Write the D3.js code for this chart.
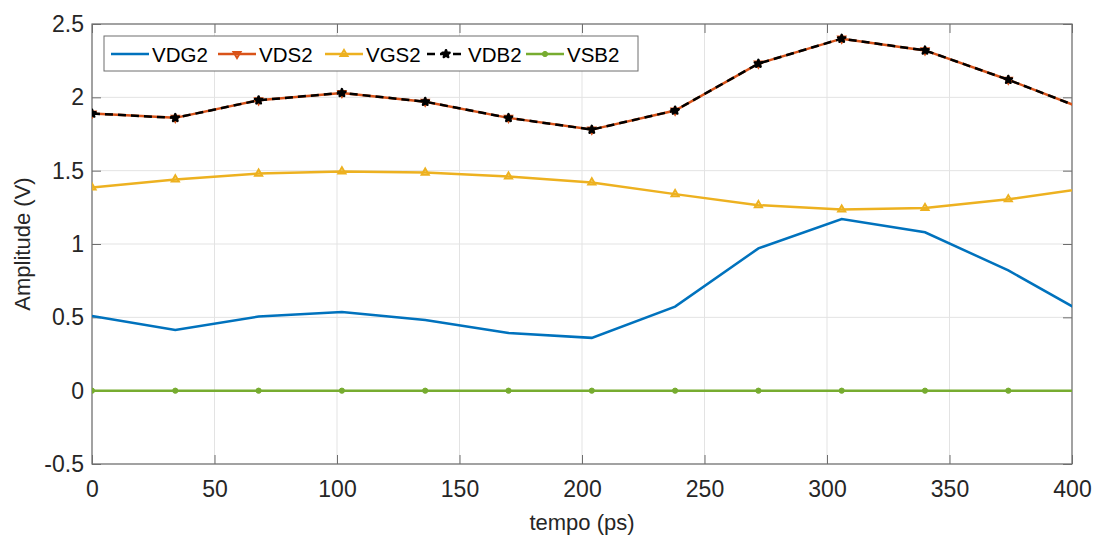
<!DOCTYPE html>
<html>
<head>
<meta charset="utf-8">
<script src="https://cdn.jsdelivr.net/npm/d3@7"></script>
<style>
  body { margin: 0; background: #fff; }
  svg { display: block; font-family: "Liberation Sans", Arial, sans-serif; }
</style>
</head>
<body>
<div id="chart"></div>
<script>
// sample times (ps), last one lies past the axis limit and gets clipped
var tempo = [0, 34, 68, 102, 136, 170, 204, 238, 272, 306, 340, 374, 408];
var vdg2 = [0.51, 0.414, 0.505, 0.536, 0.482, 0.393, 0.36, 0.573, 0.97, 1.17, 1.08, 0.82, 0.50];
var vds2 = [1.89, 1.86, 1.98, 2.03, 1.97, 1.86, 1.78, 1.91, 2.23, 2.40, 2.32, 2.12, 1.90];
var vgs2 = [1.385, 1.44, 1.48, 1.495, 1.487, 1.46, 1.42, 1.34, 1.265, 1.235, 1.245, 1.305, 1.385];
var vdb2 = [1.89, 1.86, 1.98, 2.03, 1.97, 1.86, 1.78, 1.91, 2.23, 2.40, 2.32, 2.12, 1.90];
var vsb2 = [0, 0, 0, 0, 0, 0, 0, 0, 0, 0, 0, 0, 0];
var xTicks = [0, 50, 100, 150, 200, 250, 300, 350, 400];
var yTicks = [-0.5, 0, 0.5, 1, 1.5, 2, 2.5];

var series = [
  {name: "VDG2", values: vdg2, color: "#0072BD", marker: null, dash: null},
  {name: "VDS2", values: vds2, color: "#D95319", marker: "tridown", dash: null},
  {name: "VGS2", values: vgs2, color: "#EDB120", marker: "triup", dash: null},
  {name: "VDB2", values: vdb2, color: "#000000", marker: "star", dash: "8,5"},
  {name: "VSB2", values: vsb2, color: "#77AC30", marker: "dot", dash: null}
];

var width = 1101, height = 539;
var margin = {top: 24, right: 29, bottom: 75, left: 92};
var iw = width - margin.left - margin.right,
    ih = height - margin.top - margin.bottom;

var svg = d3.select("#chart").append("svg")
    .attr("width", width)
    .attr("height", height);

var x = d3.scaleLinear().domain([0, 400]).range([0, iw]);
var y = d3.scaleLinear().domain([-0.5, 2.5]).range([ih, 0]);

svg.append("defs").append("clipPath").attr("id", "clip")
  .append("rect").attr("width", iw).attr("height", ih);

var g = svg.append("g").attr("transform", "translate(" + margin.left + "," + margin.top + ")");

// grid
g.append("g").selectAll("line").data(xTicks).enter().append("line")
    .attr("x1", function(d) { return x(d); }).attr("x2", function(d) { return x(d); })
    .attr("y1", 0).attr("y2", ih)
    .attr("stroke", "#e3e3e3").attr("stroke-width", 1);
g.append("g").selectAll("line").data(yTicks).enter().append("line")
    .attr("y1", function(d) { return y(d); }).attr("y2", function(d) { return y(d); })
    .attr("x1", 0).attr("x2", iw)
    .attr("stroke", "#e3e3e3").attr("stroke-width", 1);

// axes (ticks pointing inward, box on)
var axisColor = "#262626";
function styleAxis(sel, showText) {
  sel.select(".domain").remove();
  sel.selectAll(".tick line").attr("stroke", "#6e6e6e").attr("stroke-width", 1);
  sel.selectAll(".tick text")
      .attr("fill", axisColor)
      .style("font-size", "23px")
      .style("display", showText ? null : "none");
}
g.append("g").attr("transform", "translate(0," + ih + ")")
    .call(d3.axisBottom(x).tickValues(xTicks).tickSize(-9).tickPadding(17).tickFormat(d3.format("d")))
    .call(styleAxis, true);
g.append("g")
    .call(d3.axisTop(x).tickValues(xTicks).tickSize(-9).tickFormat(""))
    .call(styleAxis, false);
g.append("g")
    .call(d3.axisLeft(y).tickValues(yTicks).tickSize(-9).tickPadding(8).tickFormat(function(d) { return String(d); }))
    .call(styleAxis, true);
g.append("g").attr("transform", "translate(" + iw + ",0)")
    .call(d3.axisRight(y).tickValues(yTicks).tickSize(-9).tickFormat(""))
    .call(styleAxis, false);

g.append("rect")
    .attr("width", iw).attr("height", ih)
    .attr("fill", "none").attr("stroke", "#6e6e6e").attr("stroke-width", 1.2);

// lines
var line = d3.line()
    .x(function(d, i) { return x(tempo[i]); })
    .y(function(d) { return y(d); });

var plot = g.append("g").attr("clip-path", "url(#clip)");

function drawMarker(sel, type, color) {
  if (!type) return;
  if (type === "tridown") {
    sel.append("path")
        .attr("d", d3.symbol().type(d3.symbolTriangle).size(22))
        .attr("transform", "rotate(180)")
        .attr("fill", "none").attr("stroke", color).attr("stroke-width", 2);
  } else if (type === "triup") {
    sel.append("path")
        .attr("d", d3.symbol().type(d3.symbolTriangle).size(22))
        .attr("fill", "none").attr("stroke", color).attr("stroke-width", 2);
  } else if (type === "star") {
    sel.append("path")
        .attr("d", d3.symbol().type(d3.symbolStar).size(16))
        .attr("fill", color).attr("stroke", color).attr("stroke-width", 2.5)
        .attr("stroke-linejoin", "round");
  } else if (type === "dot") {
    sel.append("circle")
        .attr("r", 2.6)
        .attr("fill", color).attr("stroke", color).attr("stroke-width", 1);
  }
}

series.forEach(function(s) {
  plot.append("path")
      .datum(s.values)
      .attr("fill", "none")
      .attr("stroke", s.color)
      .attr("stroke-width", 2.5)
      .attr("stroke-dasharray", s.dash)
      .attr("d", line);
  if (s.marker) {
    plot.append("g").selectAll("g").data(s.values).enter().append("g")
        .attr("transform", function(d, i) { return "translate(" + x(tempo[i]) + "," + y(d) + ")"; })
        .each(function() { drawMarker(d3.select(this), s.marker, s.color); });
  }
});

// axis labels
svg.append("text")
    .attr("x", margin.left + iw / 2).attr("y", 530)
    .attr("text-anchor", "middle")
    .attr("fill", axisColor)
    .style("font-size", "22px")
    .text("tempo (ps)");
svg.append("text")
    .attr("transform", "translate(30," + (margin.top + ih / 2) + ") rotate(-90)")
    .attr("text-anchor", "middle")
    .attr("fill", axisColor)
    .style("font-size", "22px")
    .text("Amplitude (V)");

// legend
var legend = svg.append("g").attr("transform", "translate(104,36)");
legend.append("rect")
    .attr("width", 534).attr("height", 35)
    .attr("fill", "#fff").attr("stroke", "#6e6e6e").attr("stroke-width", 1);
var legX = [7, 114, 221, 323, 422];
series.forEach(function(s, i) {
  var it = legend.append("g").attr("transform", "translate(" + legX[i] + ",18)");
  it.append("line")
      .attr("x1", 0).attr("x2", 38)
      .attr("stroke", s.color).attr("stroke-width", 2.5)
      .attr("stroke-dasharray", s.dash);
  var m = it.append("g").attr("transform", "translate(19,0)");
  drawMarker(m, s.marker, s.color);
  it.append("text")
      .attr("x", 41).attr("y", 8)
      .attr("fill", "#000")
      .style("font-size", "20.5px")
      .text(s.name);
});
</script>
</body>
</html>
